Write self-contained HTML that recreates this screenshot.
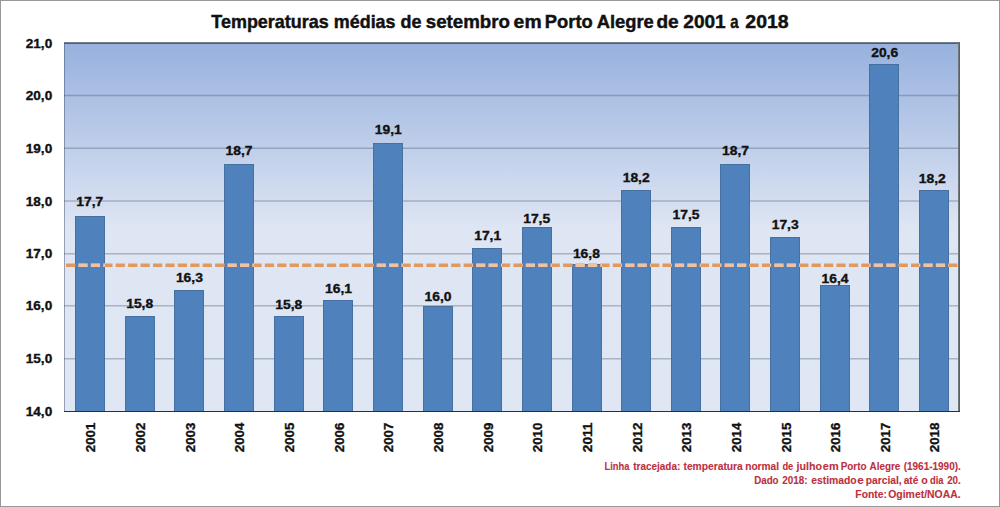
<!DOCTYPE html><html><head><meta charset="utf-8"><title>Temperaturas médias de setembro em Porto Alegre</title>
<style>html,body{margin:0;padding:0;background:#fff;}svg{display:block;}text{font-family:'Liberation Sans', Arial, sans-serif;font-weight:bold;}</style></head><body>
<svg width="1000" height="507" viewBox="0 0 1000 507">
<defs><linearGradient id="bg" x1="0" y1="0" x2="0" y2="1"><stop offset="0" stop-color="#97B1DE"/><stop offset="0.5" stop-color="#DEE5F3"/><stop offset="1" stop-color="#DFE6F4"/></linearGradient></defs>
<rect x="0.5" y="0.5" width="999" height="506" fill="#fff" stroke="#999999" stroke-width="1"/>
<text y="27.6" font-size="19" fill="#111" stroke="#111" stroke-width="0.45"><tspan x="211.30" textLength="117.43" lengthAdjust="spacingAndGlyphs">Temperaturas</tspan> <tspan x="333.82" textLength="61.71" lengthAdjust="spacingAndGlyphs">médias</tspan> <tspan x="400.46" textLength="20.95" lengthAdjust="spacingAndGlyphs">de</tspan> <tspan x="425.74" textLength="84.19" lengthAdjust="spacingAndGlyphs">setembro</tspan> <tspan x="513.64" textLength="27.95" lengthAdjust="spacingAndGlyphs">em</tspan> <tspan x="544.77" textLength="47.95" lengthAdjust="spacingAndGlyphs">Porto</tspan> <tspan x="596.74" textLength="57.08" lengthAdjust="spacingAndGlyphs">Alegre</tspan> <tspan x="656.42" textLength="22.23" lengthAdjust="spacingAndGlyphs">de</tspan> <tspan x="683.34" textLength="42.39" lengthAdjust="spacingAndGlyphs">2001</tspan> <tspan x="730.36" textLength="8.34" lengthAdjust="spacingAndGlyphs">a</tspan> <tspan x="745.33" textLength="43.27" lengthAdjust="spacingAndGlyphs">2018</tspan></text>
<rect x="64" y="43" width="895" height="368" fill="url(#bg)"/>
<line x1="64" y1="358.8" x2="959" y2="358.8" stroke="rgba(50,62,90,0.3)" stroke-width="1.6"/>
<line x1="64" y1="305.8" x2="959" y2="305.8" stroke="rgba(50,62,90,0.3)" stroke-width="1.6"/>
<line x1="64" y1="253.8" x2="959" y2="253.8" stroke="rgba(50,62,90,0.3)" stroke-width="1.6"/>
<line x1="64" y1="201" x2="959" y2="201" stroke="rgba(50,62,90,0.3)" stroke-width="1.6"/>
<line x1="64" y1="148.2" x2="959" y2="148.2" stroke="rgba(50,62,90,0.3)" stroke-width="1.6"/>
<line x1="64" y1="95.5" x2="959" y2="95.5" stroke="rgba(50,62,90,0.3)" stroke-width="1.6"/>
<line x1="64.5" y1="43" x2="64.5" y2="411" stroke="rgba(50,62,90,0.42)" stroke-width="1"/>
<rect x="75" y="216" width="30" height="195" fill="#4F81BD"/>
<rect x="75.5" y="216.5" width="29" height="195" fill="none" stroke="#46709F" stroke-width="1"/>
<rect x="125" y="316" width="30" height="95" fill="#4F81BD"/>
<rect x="125.5" y="316.5" width="29" height="95" fill="none" stroke="#46709F" stroke-width="1"/>
<rect x="174" y="290" width="30" height="121" fill="#4F81BD"/>
<rect x="174.5" y="290.5" width="29" height="121" fill="none" stroke="#46709F" stroke-width="1"/>
<rect x="224" y="164" width="30" height="247" fill="#4F81BD"/>
<rect x="224.5" y="164.5" width="29" height="247" fill="none" stroke="#46709F" stroke-width="1"/>
<rect x="274" y="316" width="30" height="95" fill="#4F81BD"/>
<rect x="274.5" y="316.5" width="29" height="95" fill="none" stroke="#46709F" stroke-width="1"/>
<rect x="323" y="300" width="30" height="111" fill="#4F81BD"/>
<rect x="323.5" y="300.5" width="29" height="111" fill="none" stroke="#46709F" stroke-width="1"/>
<rect x="373" y="143" width="30" height="268" fill="#4F81BD"/>
<rect x="373.5" y="143.5" width="29" height="268" fill="none" stroke="#46709F" stroke-width="1"/>
<rect x="423" y="306" width="30" height="105" fill="#4F81BD"/>
<rect x="423.5" y="306.5" width="29" height="105" fill="none" stroke="#46709F" stroke-width="1"/>
<rect x="472" y="248" width="30" height="163" fill="#4F81BD"/>
<rect x="472.5" y="248.5" width="29" height="163" fill="none" stroke="#46709F" stroke-width="1"/>
<rect x="522" y="227" width="30" height="184" fill="#4F81BD"/>
<rect x="522.5" y="227.5" width="29" height="184" fill="none" stroke="#46709F" stroke-width="1"/>
<rect x="572" y="264" width="30" height="147" fill="#4F81BD"/>
<rect x="572.5" y="264.5" width="29" height="147" fill="none" stroke="#46709F" stroke-width="1"/>
<rect x="621" y="190" width="30" height="221" fill="#4F81BD"/>
<rect x="621.5" y="190.5" width="29" height="221" fill="none" stroke="#46709F" stroke-width="1"/>
<rect x="671" y="227" width="30" height="184" fill="#4F81BD"/>
<rect x="671.5" y="227.5" width="29" height="184" fill="none" stroke="#46709F" stroke-width="1"/>
<rect x="720" y="164" width="30" height="247" fill="#4F81BD"/>
<rect x="720.5" y="164.5" width="29" height="247" fill="none" stroke="#46709F" stroke-width="1"/>
<rect x="770" y="237" width="30" height="174" fill="#4F81BD"/>
<rect x="770.5" y="237.5" width="29" height="174" fill="none" stroke="#46709F" stroke-width="1"/>
<rect x="820" y="285" width="30" height="126" fill="#4F81BD"/>
<rect x="820.5" y="285.5" width="29" height="126" fill="none" stroke="#46709F" stroke-width="1"/>
<rect x="869" y="64" width="30" height="347" fill="#4F81BD"/>
<rect x="869.5" y="64.5" width="29" height="347" fill="none" stroke="#46709F" stroke-width="1"/>
<rect x="919" y="190" width="30" height="221" fill="#4F81BD"/>
<rect x="919.5" y="190.5" width="29" height="221" fill="none" stroke="#46709F" stroke-width="1"/>
<line x1="66" y1="265.2" x2="957.4" y2="265.2" stroke="#E3985E" stroke-width="3.5" stroke-dasharray="9.2 3.227"/>
<clipPath id="bars"><rect x="75" y="216" width="30" height="195"/><rect x="125" y="316" width="30" height="95"/><rect x="174" y="290" width="30" height="121"/><rect x="224" y="164" width="30" height="247"/><rect x="274" y="316" width="30" height="95"/><rect x="323" y="300" width="30" height="111"/><rect x="373" y="143" width="30" height="268"/><rect x="423" y="306" width="30" height="105"/><rect x="472" y="248" width="30" height="163"/><rect x="522" y="227" width="30" height="184"/><rect x="572" y="264" width="30" height="147"/><rect x="621" y="190" width="30" height="221"/><rect x="671" y="227" width="30" height="184"/><rect x="720" y="164" width="30" height="247"/><rect x="770" y="237" width="30" height="174"/><rect x="820" y="285" width="30" height="126"/><rect x="869" y="64" width="30" height="347"/><rect x="919" y="190" width="30" height="221"/></clipPath>
<line x1="66" y1="265.2" x2="957.4" y2="265.2" stroke="#F0C2A2" stroke-width="3.5" stroke-dasharray="9.2 3.227" clip-path="url(#bars)"/>
<rect x="64" y="42" width="896" height="1" fill="rgb(118,128,140)"/>
<rect x="64" y="43" width="896" height="1" fill="rgb(80,92,116)"/>
<rect x="958" y="42" width="1" height="370" fill="rgb(112,120,124)"/>
<rect x="959" y="42" width="1" height="370" fill="rgb(88,98,104)"/>
<rect x="64" y="411" width="896" height="1" fill="#2B3036"/>
<text x="52.2" y="415.60" font-size="12.8" fill="#111" stroke="#111" stroke-width="0.35" text-anchor="end" textLength="26.4" lengthAdjust="spacingAndGlyphs">14,0</text>
<text x="52.2" y="362.60" font-size="12.8" fill="#111" stroke="#111" stroke-width="0.35" text-anchor="end" textLength="26.4" lengthAdjust="spacingAndGlyphs">15,0</text>
<text x="52.2" y="309.60" font-size="12.8" fill="#111" stroke="#111" stroke-width="0.35" text-anchor="end" textLength="26.4" lengthAdjust="spacingAndGlyphs">16,0</text>
<text x="52.2" y="257.60" font-size="12.8" fill="#111" stroke="#111" stroke-width="0.35" text-anchor="end" textLength="26.4" lengthAdjust="spacingAndGlyphs">17,0</text>
<text x="52.2" y="205.60" font-size="12.8" fill="#111" stroke="#111" stroke-width="0.35" text-anchor="end" textLength="26.4" lengthAdjust="spacingAndGlyphs">18,0</text>
<text x="52.2" y="152.60" font-size="12.8" fill="#111" stroke="#111" stroke-width="0.35" text-anchor="end" textLength="26.4" lengthAdjust="spacingAndGlyphs">19,0</text>
<text x="52.2" y="99.60" font-size="12.8" fill="#111" stroke="#111" stroke-width="0.35" text-anchor="end" textLength="26.4" lengthAdjust="spacingAndGlyphs">20,0</text>
<text x="52.2" y="47.60" font-size="12.8" fill="#111" stroke="#111" stroke-width="0.35" text-anchor="end" textLength="26.4" lengthAdjust="spacingAndGlyphs">21,0</text>
<text x="89.85" y="205.70" font-size="12.8" fill="#111" stroke="#111" stroke-width="0.35" text-anchor="middle" textLength="27" lengthAdjust="spacingAndGlyphs">17,7</text>
<text x="139.70" y="308.30" font-size="12.8" fill="#111" stroke="#111" stroke-width="0.35" text-anchor="middle" textLength="27" lengthAdjust="spacingAndGlyphs">15,8</text>
<text x="189.40" y="281.90" font-size="12.8" fill="#111" stroke="#111" stroke-width="0.35" text-anchor="middle" textLength="27" lengthAdjust="spacingAndGlyphs">16,3</text>
<text x="239.10" y="155.40" font-size="12.8" fill="#111" stroke="#111" stroke-width="0.35" text-anchor="middle" textLength="27" lengthAdjust="spacingAndGlyphs">18,7</text>
<text x="288.75" y="308.50" font-size="12.8" fill="#111" stroke="#111" stroke-width="0.35" text-anchor="middle" textLength="27" lengthAdjust="spacingAndGlyphs">15,8</text>
<text x="338.50" y="293.00" font-size="12.8" fill="#111" stroke="#111" stroke-width="0.35" text-anchor="middle" textLength="27" lengthAdjust="spacingAndGlyphs">16,1</text>
<text x="388.30" y="134.30" font-size="12.8" fill="#111" stroke="#111" stroke-width="0.35" text-anchor="middle" textLength="27" lengthAdjust="spacingAndGlyphs">19,1</text>
<text x="438.10" y="301.40" font-size="12.8" fill="#111" stroke="#111" stroke-width="0.35" text-anchor="middle" textLength="27" lengthAdjust="spacingAndGlyphs">16,0</text>
<text x="487.70" y="239.80" font-size="12.8" fill="#111" stroke="#111" stroke-width="0.35" text-anchor="middle" textLength="27" lengthAdjust="spacingAndGlyphs">17,1</text>
<text x="536.70" y="222.80" font-size="12.8" fill="#111" stroke="#111" stroke-width="0.35" text-anchor="middle" textLength="27" lengthAdjust="spacingAndGlyphs">17,5</text>
<text x="586.40" y="257.80" font-size="12.8" fill="#111" stroke="#111" stroke-width="0.35" text-anchor="middle" textLength="27" lengthAdjust="spacingAndGlyphs">16,8</text>
<text x="636.20" y="181.60" font-size="12.8" fill="#111" stroke="#111" stroke-width="0.35" text-anchor="middle" textLength="27" lengthAdjust="spacingAndGlyphs">18,2</text>
<text x="686.00" y="218.60" font-size="12.8" fill="#111" stroke="#111" stroke-width="0.35" text-anchor="middle" textLength="27" lengthAdjust="spacingAndGlyphs">17,5</text>
<text x="735.60" y="155.40" font-size="12.8" fill="#111" stroke="#111" stroke-width="0.35" text-anchor="middle" textLength="27" lengthAdjust="spacingAndGlyphs">18,7</text>
<text x="785.20" y="228.60" font-size="12.8" fill="#111" stroke="#111" stroke-width="0.35" text-anchor="middle" textLength="27" lengthAdjust="spacingAndGlyphs">17,3</text>
<text x="835.00" y="283.30" font-size="12.8" fill="#111" stroke="#111" stroke-width="0.35" text-anchor="middle" textLength="27" lengthAdjust="spacingAndGlyphs">16,4</text>
<text x="884.70" y="57.30" font-size="12.8" fill="#111" stroke="#111" stroke-width="0.35" text-anchor="middle" textLength="27" lengthAdjust="spacingAndGlyphs">20,6</text>
<text x="932.30" y="182.60" font-size="12.8" fill="#111" stroke="#111" stroke-width="0.35" text-anchor="middle" textLength="27" lengthAdjust="spacingAndGlyphs">18,2</text>
<text transform="translate(95.40,422.6) rotate(-90)" x="0" y="0" font-size="12.8" fill="#111" stroke="#111" stroke-width="0.35" text-anchor="end" textLength="29.6" lengthAdjust="spacingAndGlyphs">2001</text>
<text transform="translate(145.05,422.6) rotate(-90)" x="0" y="0" font-size="12.8" fill="#111" stroke="#111" stroke-width="0.35" text-anchor="end" textLength="29.6" lengthAdjust="spacingAndGlyphs">2002</text>
<text transform="translate(194.70,422.6) rotate(-90)" x="0" y="0" font-size="12.8" fill="#111" stroke="#111" stroke-width="0.35" text-anchor="end" textLength="29.6" lengthAdjust="spacingAndGlyphs">2003</text>
<text transform="translate(244.35,422.6) rotate(-90)" x="0" y="0" font-size="12.8" fill="#111" stroke="#111" stroke-width="0.35" text-anchor="end" textLength="29.6" lengthAdjust="spacingAndGlyphs">2004</text>
<text transform="translate(294.00,422.6) rotate(-90)" x="0" y="0" font-size="12.8" fill="#111" stroke="#111" stroke-width="0.35" text-anchor="end" textLength="29.6" lengthAdjust="spacingAndGlyphs">2005</text>
<text transform="translate(343.65,422.6) rotate(-90)" x="0" y="0" font-size="12.8" fill="#111" stroke="#111" stroke-width="0.35" text-anchor="end" textLength="29.6" lengthAdjust="spacingAndGlyphs">2006</text>
<text transform="translate(393.30,422.6) rotate(-90)" x="0" y="0" font-size="12.8" fill="#111" stroke="#111" stroke-width="0.35" text-anchor="end" textLength="29.6" lengthAdjust="spacingAndGlyphs">2007</text>
<text transform="translate(442.95,422.6) rotate(-90)" x="0" y="0" font-size="12.8" fill="#111" stroke="#111" stroke-width="0.35" text-anchor="end" textLength="29.6" lengthAdjust="spacingAndGlyphs">2008</text>
<text transform="translate(492.60,422.6) rotate(-90)" x="0" y="0" font-size="12.8" fill="#111" stroke="#111" stroke-width="0.35" text-anchor="end" textLength="29.6" lengthAdjust="spacingAndGlyphs">2009</text>
<text transform="translate(542.25,422.6) rotate(-90)" x="0" y="0" font-size="12.8" fill="#111" stroke="#111" stroke-width="0.35" text-anchor="end" textLength="29.6" lengthAdjust="spacingAndGlyphs">2010</text>
<text transform="translate(591.90,422.6) rotate(-90)" x="0" y="0" font-size="12.8" fill="#111" stroke="#111" stroke-width="0.35" text-anchor="end" textLength="29.6" lengthAdjust="spacingAndGlyphs">2011</text>
<text transform="translate(641.55,422.6) rotate(-90)" x="0" y="0" font-size="12.8" fill="#111" stroke="#111" stroke-width="0.35" text-anchor="end" textLength="29.6" lengthAdjust="spacingAndGlyphs">2012</text>
<text transform="translate(691.20,422.6) rotate(-90)" x="0" y="0" font-size="12.8" fill="#111" stroke="#111" stroke-width="0.35" text-anchor="end" textLength="29.6" lengthAdjust="spacingAndGlyphs">2013</text>
<text transform="translate(740.85,422.6) rotate(-90)" x="0" y="0" font-size="12.8" fill="#111" stroke="#111" stroke-width="0.35" text-anchor="end" textLength="29.6" lengthAdjust="spacingAndGlyphs">2014</text>
<text transform="translate(790.50,422.6) rotate(-90)" x="0" y="0" font-size="12.8" fill="#111" stroke="#111" stroke-width="0.35" text-anchor="end" textLength="29.6" lengthAdjust="spacingAndGlyphs">2015</text>
<text transform="translate(840.15,422.6) rotate(-90)" x="0" y="0" font-size="12.8" fill="#111" stroke="#111" stroke-width="0.35" text-anchor="end" textLength="29.6" lengthAdjust="spacingAndGlyphs">2016</text>
<text transform="translate(889.80,422.6) rotate(-90)" x="0" y="0" font-size="12.8" fill="#111" stroke="#111" stroke-width="0.35" text-anchor="end" textLength="29.6" lengthAdjust="spacingAndGlyphs">2017</text>
<text transform="translate(939.45,422.6) rotate(-90)" x="0" y="0" font-size="12.8" fill="#111" stroke="#111" stroke-width="0.35" text-anchor="end" textLength="29.6" lengthAdjust="spacingAndGlyphs">2018</text>
<text y="469.8" font-size="10.6" fill="#BC3040" stroke="#BC3040" stroke-width="0.1"><tspan x="604.48" textLength="24.86" lengthAdjust="spacingAndGlyphs">Linha</tspan> <tspan x="633.18" textLength="47.18" lengthAdjust="spacingAndGlyphs">tracejada:</tspan> <tspan x="683.47" textLength="59.36" lengthAdjust="spacingAndGlyphs">temperatura</tspan> <tspan x="745.23" textLength="33.79" lengthAdjust="spacingAndGlyphs">normal</tspan> <tspan x="782.42" textLength="10.90" lengthAdjust="spacingAndGlyphs">de</tspan> <tspan x="796.47" textLength="25.45" lengthAdjust="spacingAndGlyphs">julho</tspan> <tspan x="822.87" textLength="15.81" lengthAdjust="spacingAndGlyphs">em</tspan> <tspan x="840.64" textLength="25.95" lengthAdjust="spacingAndGlyphs">Porto</tspan> <tspan x="869.55" textLength="30.78" lengthAdjust="spacingAndGlyphs">Alegre</tspan> <tspan x="903.70" textLength="57.08" lengthAdjust="spacingAndGlyphs">(1961-1990).</tspan></text>
<text y="483.6" font-size="10.6" fill="#BC3040" stroke="#BC3040" stroke-width="0.1"><tspan x="754.15" textLength="24.44" lengthAdjust="spacingAndGlyphs">Dado</tspan> <tspan x="782.36" textLength="25.29" lengthAdjust="spacingAndGlyphs">2018:</tspan> <tspan x="811.20" textLength="45.51" lengthAdjust="spacingAndGlyphs">estimado</tspan> <tspan x="857.34" textLength="6.56" lengthAdjust="spacingAndGlyphs">e</tspan> <tspan x="865.83" textLength="35.86" lengthAdjust="spacingAndGlyphs">parcial,</tspan> <tspan x="903.70" textLength="14.64" lengthAdjust="spacingAndGlyphs">até</tspan> <tspan x="921.28" textLength="6.54" lengthAdjust="spacingAndGlyphs">o</tspan> <tspan x="930.02" textLength="13.52" lengthAdjust="spacingAndGlyphs">dia</tspan> <tspan x="947.16" textLength="13.61" lengthAdjust="spacingAndGlyphs">20.</tspan></text>
<text y="497.6" font-size="10.6" fill="#BC3040" stroke="#BC3040" stroke-width="0.1"><tspan x="855.31" textLength="31.69" lengthAdjust="spacingAndGlyphs">Fonte:</tspan> <tspan x="888.27" textLength="72.34" lengthAdjust="spacingAndGlyphs">Ogimet/NOAA.</tspan></text>
</svg></body></html>
